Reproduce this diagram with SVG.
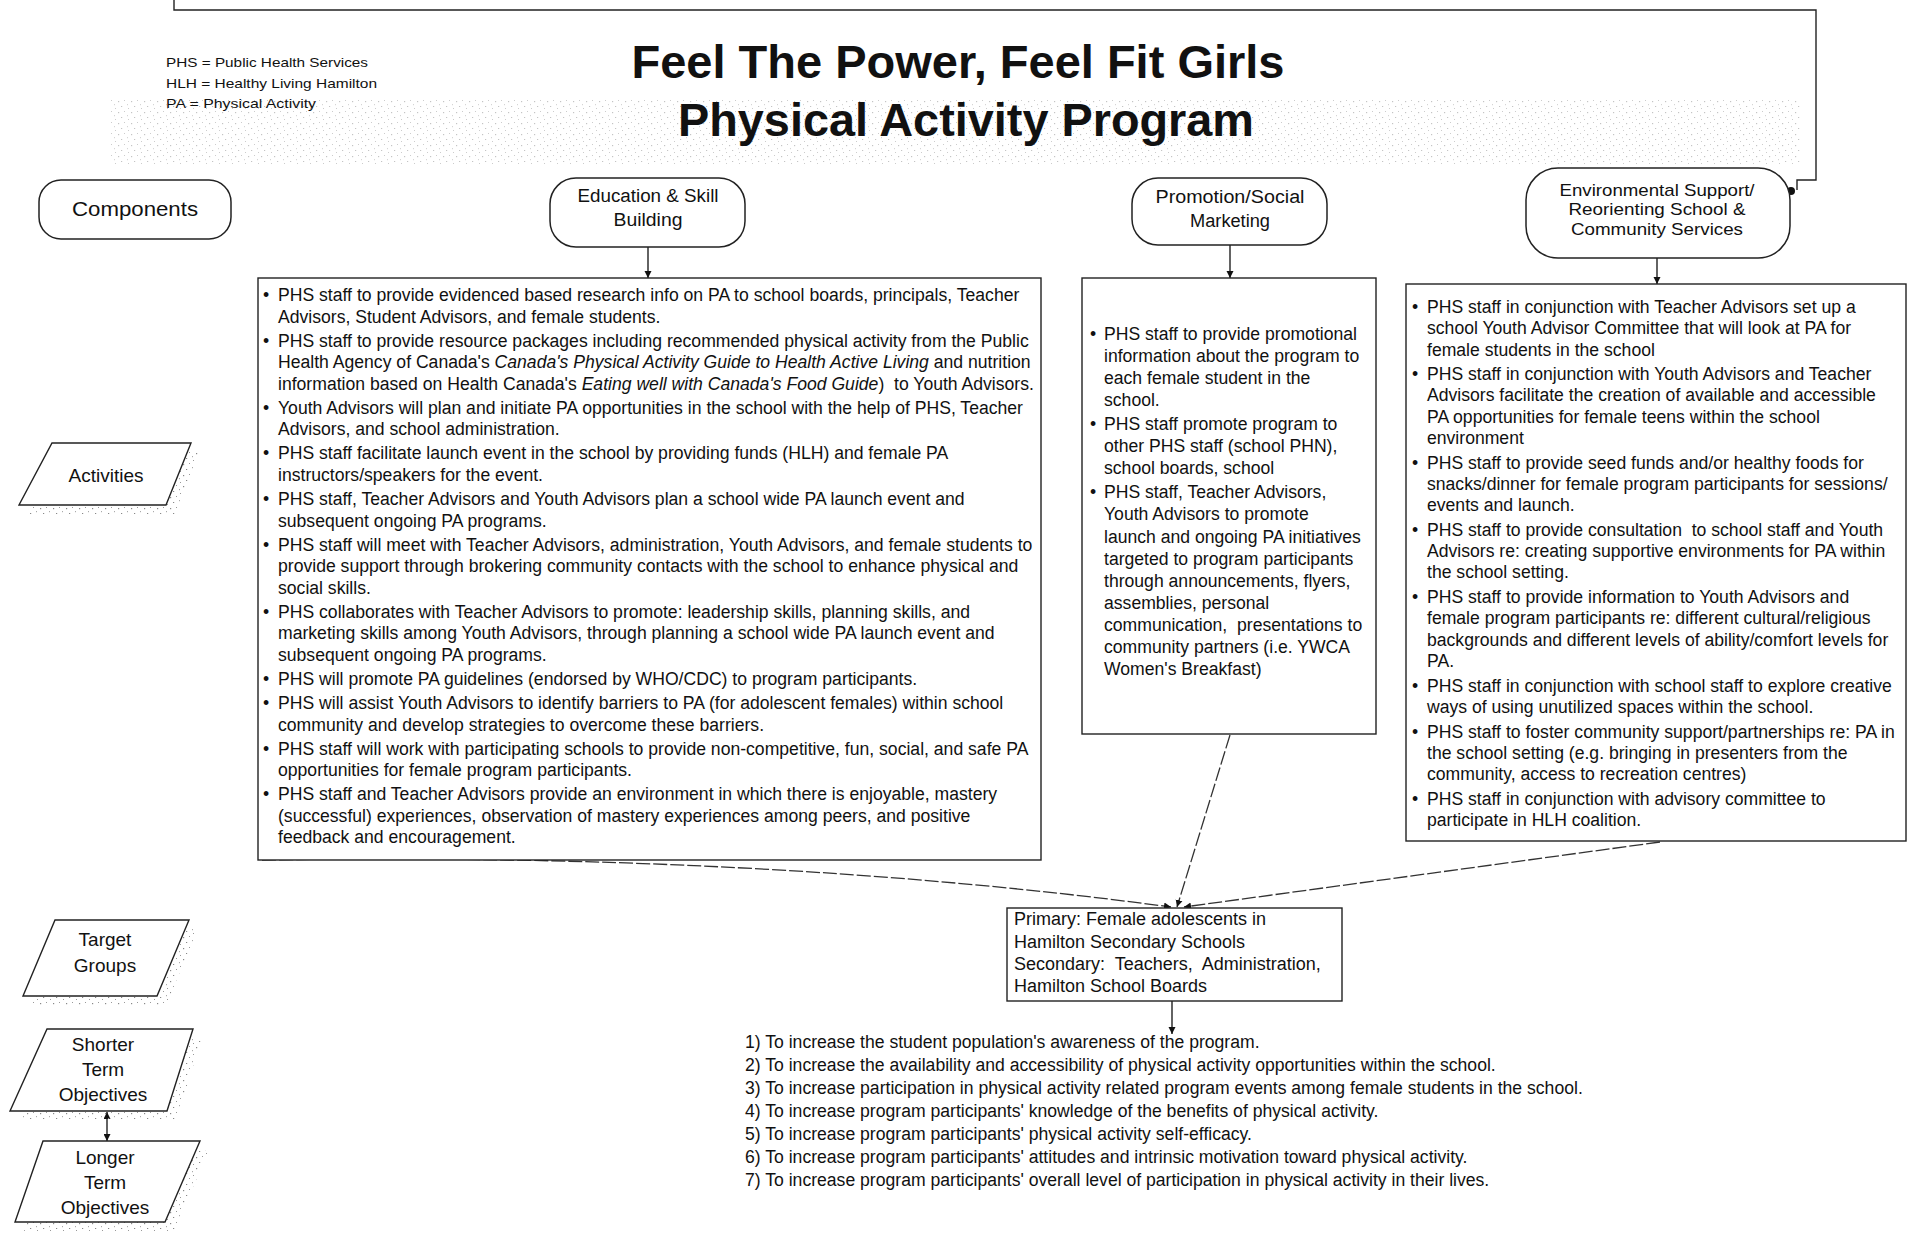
<svg xmlns="http://www.w3.org/2000/svg" width="1909" height="1240" viewBox="0 0 1909 1240">
<style>
text{font-family:"Liberation Sans",Arial,sans-serif;fill:#111}
.body{font-size:17.6px}
.title{font-size:47px;font-weight:bold;text-anchor:middle}
.leg{font-size:13px}
.nd{font-size:18px;text-anchor:middle}
.lbl{font-size:19px;text-anchor:middle}
.node{fill:#fff;stroke:#222;stroke-width:1.5}
.box{fill:#fff;stroke:#222;stroke-width:1.4}
.par{fill:#fff;stroke:#222;stroke-width:1.4}
.conn{fill:none;stroke:#222;stroke-width:1.4}
.dash{fill:none;stroke:#333;stroke-width:1.3;stroke-dasharray:14 3}
.it{font-style:italic}
</style>
<defs>
<marker id="ah" viewBox="0 0 10 10" refX="10" refY="5" markerWidth="7" markerHeight="9" orient="auto" markerUnits="userSpaceOnUse">
<path d="M0,0 L10,5 L0,10 z" fill="#111"/>
</marker>
<marker id="ahs" viewBox="0 0 10 10" refX="10" refY="5" markerWidth="8" markerHeight="7" orient="auto-start-reverse" markerUnits="userSpaceOnUse">
<path d="M0,0 L10,5 L0,10 z" fill="#111"/>
</marker>
<pattern id="speck" width="13" height="11" patternUnits="userSpaceOnUse">
<rect x="1" y="2" width="1.2" height="1.2" fill="#888"/>
<rect x="7" y="1" width="1" height="1" fill="#999"/>
<rect x="4" y="7" width="1.2" height="1" fill="#888"/>
<rect x="10" y="5" width="1" height="1.2" fill="#aaa"/>
<rect x="11" y="9" width="1" height="1" fill="#999"/>
</pattern>
</defs>
<rect width="1909" height="1240" fill="#fff"/>

<!-- scan-noise band behind title -->
<rect x="110" y="100" width="1690" height="66" fill="url(#speck)" opacity="0.5"/>

<g id="legend">
<text class="leg" x="166" y="67" textLength="202" lengthAdjust="spacingAndGlyphs">PHS = Public Health Services</text>
<text class="leg" x="166" y="88" textLength="211" lengthAdjust="spacingAndGlyphs">HLH = Healthy Living Hamilton</text>
<text class="leg" x="166" y="108" textLength="150" lengthAdjust="spacingAndGlyphs">PA = Physical Activity</text>
</g>

<g id="title">
<text class="title" x="958" y="78" textLength="653" lengthAdjust="spacingAndGlyphs">Feel The Power, Feel Fit Girls</text>
<text class="title" x="966" y="136" textLength="576" lengthAdjust="spacingAndGlyphs">Physical Activity Program</text>
</g>

<g id="connectors">
<polyline class="conn" points="174,0 174,10 1816,10 1816,180 1797,180 1797,190"/>
<circle cx="1791" cy="191" r="4" fill="#111"/>
<line class="conn" x1="648" y1="247" x2="648" y2="278" marker-end="url(#ah)"/>
<line class="conn" x1="1230" y1="245" x2="1230" y2="278" marker-end="url(#ah)"/>
<line class="conn" x1="1657" y1="258" x2="1657" y2="284" marker-end="url(#ah)"/>
<path class="dash" d="M262,860 Q760,852 1171,907" marker-end="url(#ah)"/>
<line class="dash" x1="1230" y1="735" x2="1177" y2="907" marker-end="url(#ah)"/>
<line class="dash" x1="1660" y1="842" x2="1184" y2="907" marker-end="url(#ah)"/>
<line class="conn" x1="1172" y1="1001" x2="1172" y2="1034" marker-end="url(#ah)"/>
<line class="conn" x1="107" y1="1112" x2="107" y2="1141" marker-start="url(#ahs)" marker-end="url(#ahs)"/>
</g>

<g id="components">
<rect class="node" x="39" y="180" width="192" height="59" rx="22"/>
<text x="135" y="216" style="font-size:21px;text-anchor:middle" textLength="126" lengthAdjust="spacingAndGlyphs">Components</text>
</g>

<g id="education">
<rect class="node" x="550" y="178" width="195" height="69" rx="26"/>
<text class="nd" x="648" y="202" textLength="141" lengthAdjust="spacingAndGlyphs">Education &amp; Skill</text>
<text class="nd" x="648" y="226" textLength="69" lengthAdjust="spacingAndGlyphs">Building</text>
</g>

<g id="promotion">
<rect class="node" x="1132" y="178" width="195" height="67" rx="26"/>
<text class="nd" x="1230" y="203" textLength="149" lengthAdjust="spacingAndGlyphs">Promotion/Social</text>
<text class="nd" x="1230" y="227" textLength="80" lengthAdjust="spacingAndGlyphs">Marketing</text>
</g>

<g id="environmental">
<rect class="node" x="1526" y="168" width="264" height="90" rx="32"/>
<text class="nd" x="1657" y="196" style="font-size:17px" textLength="195" lengthAdjust="spacingAndGlyphs">Environmental Support/</text>
<text class="nd" x="1657" y="215" style="font-size:17px" textLength="177" lengthAdjust="spacingAndGlyphs">Reorienting School &amp;</text>
<text class="nd" x="1657" y="235" style="font-size:17px" textLength="172" lengthAdjust="spacingAndGlyphs">Community Services</text>
</g>

<g id="label-activities">
<polygon points="60,452 200,452 175,514 26,514" fill="url(#speck)"/>
<polygon class="par" points="52,443 191,443 166,505 19,505"/>
<text class="lbl" x="106" y="482">Activities</text>
</g>

<g id="label-target">
<polygon points="63,929 198,929 166,1005 31,1005" fill="url(#speck)"/>
<polygon class="par" points="55,920 189,920 157,996 23,996"/>
<text class="lbl" x="105" y="946">Target</text>
<text class="lbl" x="105" y="972">Groups</text>
</g>

<g id="label-shorter">
<polygon points="55,1038 202,1038 176,1120 19,1120" fill="url(#speck)"/>
<polygon class="par" points="47,1029 193,1029 167,1111 10,1111"/>
<text class="lbl" x="103" y="1051">Shorter</text>
<text class="lbl" x="103" y="1076">Term</text>
<text class="lbl" x="103" y="1101">Objectives</text>
</g>

<g id="label-longer">
<polygon points="51,1150 209,1150 174,1231 24,1231" fill="url(#speck)"/>
<polygon class="par" points="43,1141 200,1141 165,1222 15,1222"/>
<text class="lbl" x="105" y="1164">Longer</text>
<text class="lbl" x="105" y="1189">Term</text>
<text class="lbl" x="105" y="1214">Objectives</text>
</g>

<g id="education-activities">
<rect class="box" x="258" y="278" width="783" height="582"/>
<g class="body">
<text x="263" y="301">•</text><text x="278" y="301">PHS staff to provide evidenced based research info on PA to school boards, principals, Teacher</text>
<text x="278" y="323">Advisors, Student Advisors, and female students.</text>
<text x="263" y="347">•</text><text x="278" y="347">PHS staff to provide resource packages including recommended physical activity from the Public</text>
<text x="278" y="368">Health Agency of Canada's <tspan class="it">Canada's Physical Activity Guide to Health Active Living</tspan> and nutrition</text>
<text x="278" y="390" xml:space="preserve">information based on Health Canada's <tspan class="it">Eating well with Canada's Food Guide</tspan>)  to Youth Advisors.</text>
<text x="263" y="414">•</text><text x="278" y="414">Youth Advisors will plan and initiate PA opportunities in the school with the help of PHS, Teacher</text>
<text x="278" y="435">Advisors, and school administration.</text>
<text x="263" y="459">•</text><text x="278" y="459">PHS staff facilitate launch event in the school by providing funds (HLH) and female PA</text>
<text x="278" y="481">instructors/speakers for the event.</text>
<text x="263" y="505">•</text><text x="278" y="505">PHS staff, Teacher Advisors and Youth Advisors plan a school wide PA launch event and</text>
<text x="278" y="527">subsequent ongoing PA programs.</text>
<text x="263" y="551">•</text><text x="278" y="551">PHS staff will meet with Teacher Advisors, administration, Youth Advisors, and female students to</text>
<text x="278" y="572">provide support through brokering community contacts with the school to enhance physical and</text>
<text x="278" y="594">social skills.</text>
<text x="263" y="618">•</text><text x="278" y="618">PHS collaborates with Teacher Advisors to promote: leadership skills, planning skills, and</text>
<text x="278" y="639">marketing skills among Youth Advisors, through planning a school wide PA launch event and</text>
<text x="278" y="661">subsequent ongoing PA programs.</text>
<text x="263" y="685">•</text><text x="278" y="685">PHS will promote PA guidelines (endorsed by WHO/CDC) to program participants.</text>
<text x="263" y="709">•</text><text x="278" y="709">PHS will assist Youth Advisors to identify barriers to PA (for adolescent females) within school</text>
<text x="278" y="731">community and develop strategies to overcome these barriers.</text>
<text x="263" y="755">•</text><text x="278" y="755">PHS staff will work with participating schools to provide non-competitive, fun, social, and safe PA</text>
<text x="278" y="776">opportunities for female program participants.</text>
<text x="263" y="800">•</text><text x="278" y="800">PHS staff and Teacher Advisors provide an environment in which there is enjoyable, mastery</text>
<text x="278" y="822">(successful) experiences, observation of mastery experiences among peers, and positive</text>
<text x="278" y="843">feedback and encouragement.</text>
</g>
</g>

<g id="promotion-activities">
<rect class="box" x="1082" y="278" width="294" height="456"/>
<g class="body">
<text x="1090" y="340">•</text><text x="1104" y="340">PHS staff to provide promotional</text>
<text x="1104" y="362">information about the program to</text>
<text x="1104" y="384">each female student in the</text>
<text x="1104" y="406">school.</text>
<text x="1090" y="430">•</text><text x="1104" y="430">PHS staff promote program to</text>
<text x="1104" y="452">other PHS staff (school PHN),</text>
<text x="1104" y="474">school boards, school</text>
<text x="1090" y="498">•</text><text x="1104" y="498">PHS staff, Teacher Advisors,</text>
<text x="1104" y="520">Youth Advisors to promote</text>
<text x="1104" y="543">launch and ongoing PA initiatives</text>
<text x="1104" y="565">targeted to program participants</text>
<text x="1104" y="587">through announcements, flyers,</text>
<text x="1104" y="609">assemblies, personal</text>
<text x="1104" y="631" xml:space="preserve">communication,  presentations to</text>
<text x="1104" y="653">community partners (i.e. YWCA</text>
<text x="1104" y="675">Women's Breakfast)</text>
</g>
</g>

<g id="environmental-activities">
<rect class="box" x="1406" y="284" width="500" height="557"/>
<g class="body">
<text x="1412" y="313">•</text><text x="1427" y="313">PHS staff in conjunction with Teacher Advisors set up a</text>
<text x="1427" y="334">school Youth Advisor Committee that will look at PA for</text>
<text x="1427" y="356">female students in the school</text>
<text x="1412" y="380">•</text><text x="1427" y="380">PHS staff in conjunction with Youth Advisors and Teacher</text>
<text x="1427" y="401">Advisors facilitate the creation of available and accessible</text>
<text x="1427" y="423">PA opportunities for female teens within the school</text>
<text x="1427" y="444">environment</text>
<text x="1412" y="469">•</text><text x="1427" y="469">PHS staff to provide seed funds and/or healthy foods for</text>
<text x="1427" y="490">snacks/dinner for female program participants for sessions/</text>
<text x="1427" y="511">events and launch.</text>
<text x="1412" y="536">•</text><text x="1427" y="536" xml:space="preserve">PHS staff to provide consultation  to school staff and Youth</text>
<text x="1427" y="557">Advisors re: creating supportive environments for PA within</text>
<text x="1427" y="578">the school setting.</text>
<text x="1412" y="603">•</text><text x="1427" y="603">PHS staff to provide information to Youth Advisors and</text>
<text x="1427" y="624">female program participants re: different cultural/religious</text>
<text x="1427" y="646">backgrounds and different levels of ability/comfort levels for</text>
<text x="1427" y="667">PA.</text>
<text x="1412" y="692">•</text><text x="1427" y="692">PHS staff in conjunction with school staff to explore creative</text>
<text x="1427" y="713">ways of using unutilized spaces within the school.</text>
<text x="1412" y="738">•</text><text x="1427" y="738">PHS staff to foster community support/partnerships re: PA in</text>
<text x="1427" y="759">the school setting (e.g. bringing in presenters from the</text>
<text x="1427" y="780">community, access to recreation centres)</text>
<text x="1412" y="805">•</text><text x="1427" y="805">PHS staff in conjunction with advisory committee to</text>
<text x="1427" y="826">participate in HLH coalition.</text>
</g>
</g>

<g id="target-groups">
<rect class="box" x="1007" y="908" width="335" height="93"/>
<g style="font-size:18px">
<text x="1014" y="925">Primary: Female adolescents in</text>
<text x="1014" y="948">Hamilton Secondary Schools</text>
<text x="1014" y="970" xml:space="preserve">Secondary:  Teachers,  Administration,</text>
<text x="1014" y="992">Hamilton School Boards</text>
</g>
</g>

<g id="objectives">
<g class="body">
<text x="745" y="1048">1) To increase the student population's awareness of the program.</text>
<text x="745" y="1071">2) To increase the availability and accessibility of physical activity opportunities within the school.</text>
<text x="745" y="1094">3) To increase participation in physical activity related program events among female students in the school.</text>
<text x="745" y="1117">4) To increase program participants' knowledge of the benefits of physical activity.</text>
<text x="745" y="1140">5) To increase program participants' physical activity self-efficacy.</text>
<text x="745" y="1163">6) To increase program participants' attitudes and intrinsic motivation toward physical activity.</text>
<text x="745" y="1186">7) To increase program participants' overall level of participation in physical activity in their lives.</text>
</g>
</g>
</svg>
